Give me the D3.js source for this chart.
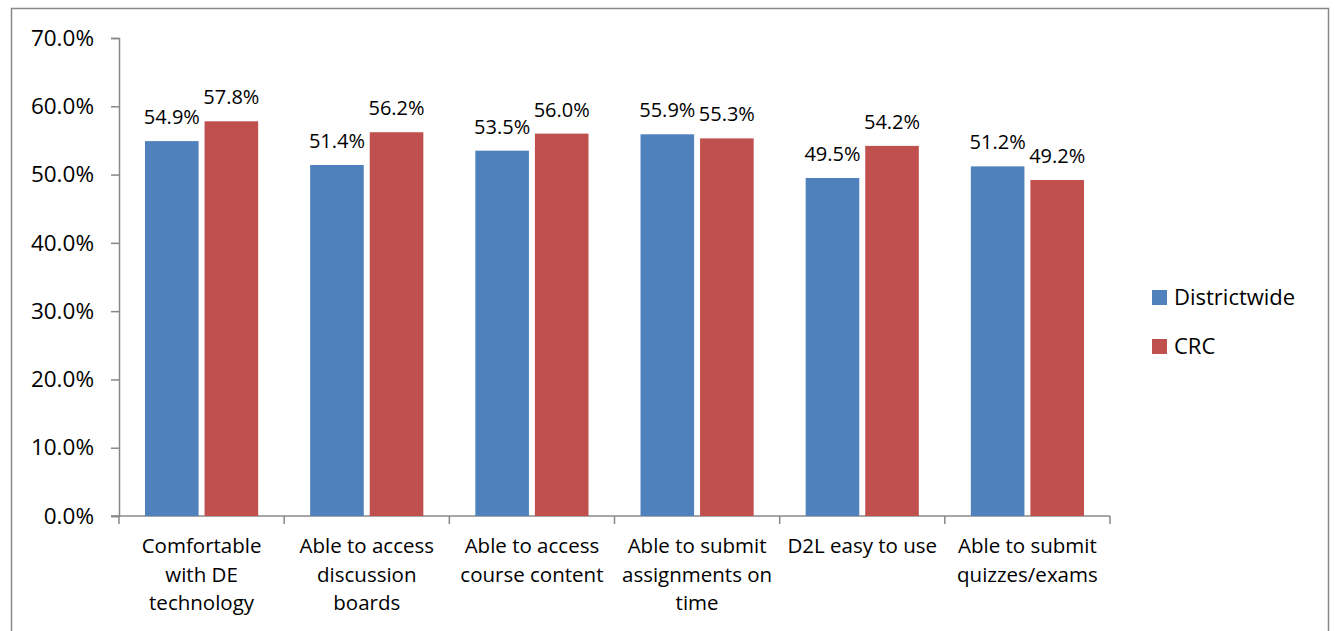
<html>
<script src="https://d3js.org/d3.v7.min.js"></script>
<style>
  body { margin: 0; background: #fff; }
  text { font-family: "Open Sans", "Lato", sans-serif; fill: #000; }
</style>
<body>
</body>
<script>
    // chart data
    let categories = [
        ["Comfortable", "with DE", "technology"],
        ["Able to access", "discussion", "boards"],
        ["Able to access", "course content"],
        ["Able to submit", "assignments on", "time"],
        ["D2L easy to use"],
        ["Able to submit", "quizzes/exams"]
    ];
    let seriesNames = ["Districtwide", "CRC"];
    let districtwide = [54.9, 51.4, 53.5, 55.9, 49.5, 51.2];
    let crc = [57.8, 56.2, 56.0, 55.3, 54.2, 49.2];
    let yTicks = [0, 10, 20, 30, 40, 50, 60, 70];
    let colors = ["#4f81bd", "#c0504d"];

    let W = 1335, H = 631;
    let plotLeft = 119, plotRight = 1110, plotTop = 38, plotBottom = 516;

    let svg = d3.select("body").append("svg")
        .attr("width", W)
        .attr("height", H);

    // outer frame
    svg.append("rect")
        .attr("x", 11.5).attr("y", 8.5)
        .attr("width", 1317).attr("height", 640)
        .attr("fill", "none")
        .attr("stroke", "#888")
        .attr("stroke-width", 1.5);

    let x = d3.scaleBand()
        .domain(d3.range(categories.length))
        .range([plotLeft, plotRight]);

    let inner = d3.scaleBand()
        .domain([0, 1])
        .range([26, x.bandwidth() - 26])
        .paddingInner(0.1);

    let y = d3.scaleLinear()
        .domain([0, 70])
        .range([plotBottom, plotTop]);

    // y axis
    let yAxis = svg.append("g")
        .attr("transform", `translate(${plotLeft},0)`)
        .call(d3.axisLeft(y).tickValues(yTicks).tickSize(8).tickPadding(17)
            .tickFormat(d => d.toFixed(1) + "%"));
    yAxis.attr("font-family", null).attr("font-size", null);
    yAxis.selectAll("text").style("font-size", "22.5px");

    // x axis
    let xAxis = svg.append("g")
        .attr("transform", `translate(0,${plotBottom})`);
    xAxis.append("line")
        .attr("x1", plotLeft - 8).attr("x2", plotRight)
        .attr("y1", 0).attr("y2", 0);
    xAxis.selectAll(".tk")
        .data(d3.range(categories.length + 1))
        .enter().append("line")
        .attr("x1", d => d < categories.length ? x(d) : plotRight)
        .attr("x2", d => d < categories.length ? x(d) : plotRight)
        .attr("y1", 0).attr("y2", 8);
    svg.selectAll("g line, g path.domain")
        .attr("stroke", "#888")
        .attr("stroke-width", 1.5);

    // category labels
    categories.forEach((lines, i) => {
        let t = svg.append("text")
            .attr("x", x(i) + x.bandwidth() / 2)
            .attr("y", 553)
            .attr("text-anchor", "middle")
            .style("font-size", "20.5px");
        lines.forEach((l, j) => {
            t.append("tspan")
                .attr("x", x(i) + x.bandwidth() / 2)
                .attr("dy", j === 0 ? 0 : 28.5)
                .text(l);
        });
    });

    // bars
    let series = [districtwide, crc];
    series.forEach((vals, s) => {
        svg.selectAll(".bar" + s)
            .data(vals)
            .enter().append("rect")
            .attr("x", (d, i) => x(i) + inner(s))
            .attr("y", d => y(d))
            .attr("width", inner.bandwidth())
            .attr("height", d => plotBottom - y(d))
            .attr("fill", colors[s]);

        svg.selectAll(".lab" + s)
            .data(vals)
            .enter().append("text")
            .attr("x", (d, i) => x(i) + inner(s) + inner.bandwidth() / 2)
            .attr("y", d => y(d) - 17)
            .attr("text-anchor", "middle")
            .style("font-size", "20px")
            .text(d => d.toFixed(1) + "%");
    });

    // legend
    seriesNames.forEach((n, i) => {
        let ly = 297 + i * 49;
        svg.append("rect")
            .attr("x", 1152).attr("y", ly - 7)
            .attr("width", 15).attr("height", 15)
            .attr("fill", colors[i]);
        svg.append("text")
            .attr("x", 1174).attr("y", ly + 8)
            .style("font-size", "22px")
            .text(n);
    });
</script>
</html>
